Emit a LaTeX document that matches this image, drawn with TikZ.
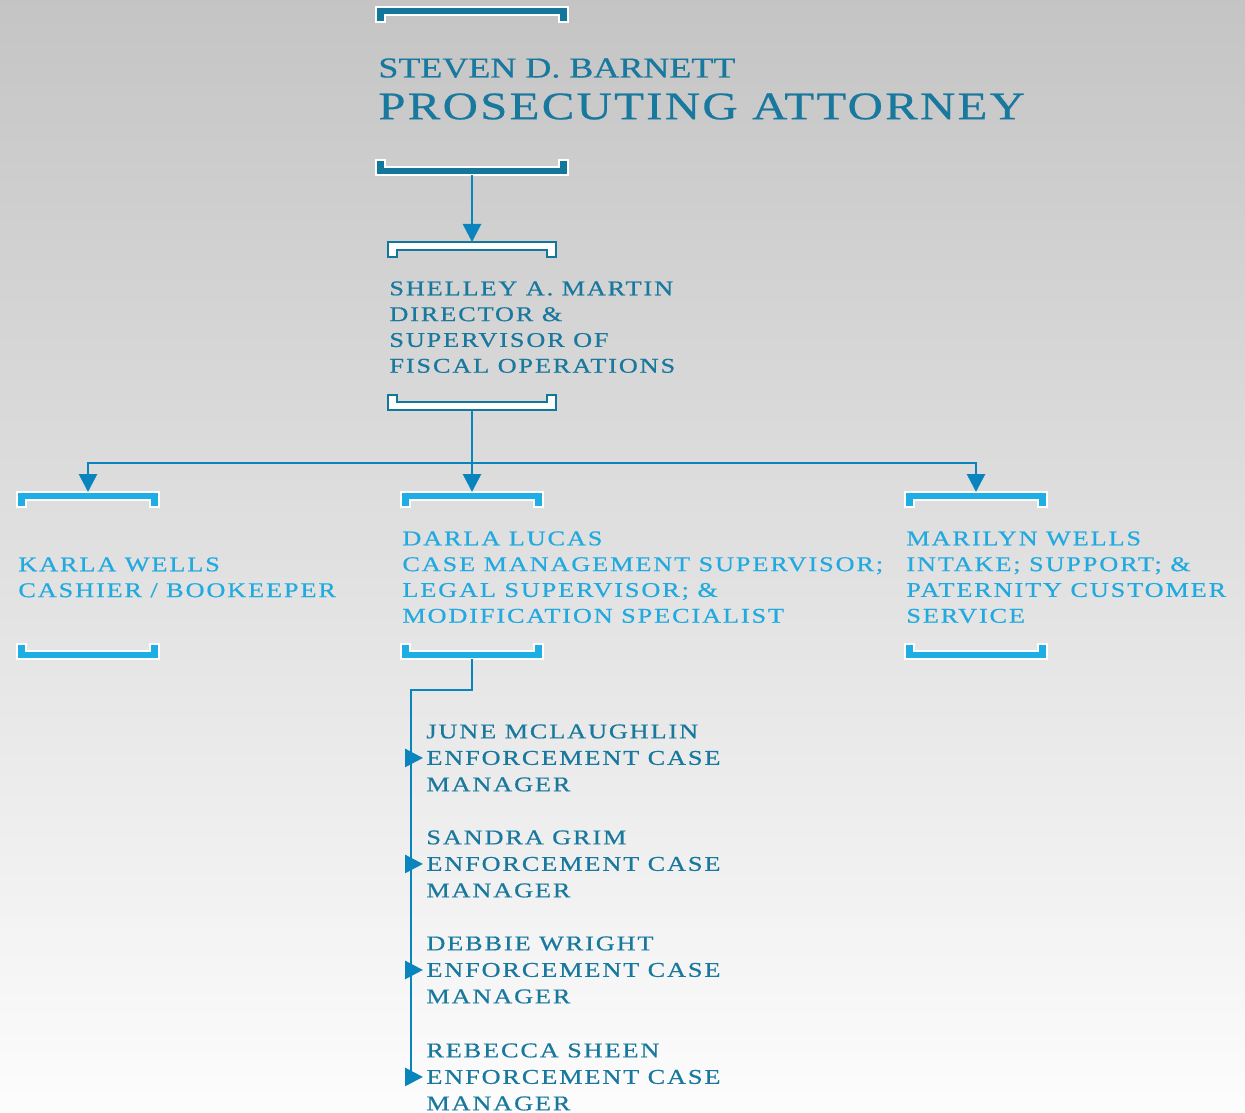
\documentclass[tikz,border=0pt]{standalone}
\usepackage{fontspec}
\setmainfont{Liberation Serif}
\newfontfamily\orgfont[FakeStretch=1.25,LetterSpace=9,FakeBold=0.6]{Liberation Serif}
\newfontfamily\headfont[FakeStretch=1.25,LetterSpace=0,FakeBold=0.6]{Liberation Serif}
\newfontfamily\rolefont[FakeStretch=1.25,LetterSpace=6,FakeBold=0.6]{Liberation Serif}
\definecolor{orgdark}{RGB}{19,118,155}
\definecolor{orgtext}{RGB}{24,120,158}
\definecolor{orglight}{RGB}{30,174,228}
\definecolor{orgsky}{RGB}{33,170,224}
\definecolor{orgline}{RGB}{10,132,188}
\usetikzlibrary{arrows.meta}

% pair of brackets round a person: name, style, left x, right x, top y, bottom y
\newcommand{\bracketpair}[6]{
  \filldraw [#2] (#3,#5) -- (#4,#5) -- (#4,#5+15) -- (#4-9,#5+15) -- (#4-9,#5+8) -- (#3+9,#5+8) -- (#3+9,#5+15) -- (#3,#5+15) -- cycle;
  \filldraw [#2] (#3,#6) -- (#4,#6) -- (#4,#6-15) -- (#4-9,#6-15) -- (#4-9,#6-8) -- (#3+9,#6-8) -- (#3+9,#6-15) -- (#3,#6-15) -- cycle;
  \coordinate (#1-top) at ({(#3+#4)/2},#5);
  \coordinate (#1-bot) at ({(#3+#4)/2},#6);
}

\begin{document}
\begin{tikzpicture}[x=0.5pt, y=-0.5pt,
  conn/.style={draw=orgline, line width=1.4pt, -{Triangle[width=9pt,length=9pt]}},
  darkbox/.style={fill=orgdark, draw=white, line width=0.8pt},
  whitebox/.style={fill=white, draw=orgdark, line width=1pt},
  lightbox/.style={fill=orglight, draw=white, line width=0.8pt},
  person/.style={anchor=north west, inner sep=0pt, align=left, text=orgtext,
    font=\orgfont\fontsize{10.5pt}{12.9pt}\selectfont},
  staff/.style={person, font=\orgfont\fontsize{10.5pt}{13.25pt}\selectfont}]

  \shade [top color=black!23, bottom color=black!1] (0,0) rectangle (1245,1112);
  \useasboundingbox (0,0) rectangle (1245,1112);

  % prosecuting attorney
  \bracketpair{boss}{darkbox}{376}{568}{7}{175}
  \node [person, font=\headfont\fontsize{14.4pt}{17pt}\selectfont] (boss) at (378,58) {STEVEN D. BARNETT};
  \node [person, font=\rolefont\fontsize{19.5pt}{22pt}\selectfont] (bossrole) at (378,93) {PROSECUTING ATTORNEY};

  % director
  \bracketpair{dir}{whitebox}{388}{556}{242}{410}
  \node [person] (director) at (389,281) {SHELLEY A. MARTIN\\DIRECTOR \&\\SUPERVISOR OF\\FISCAL OPERATIONS};

  % supervisors
  \bracketpair{karla}{lightbox}{17}{159}{492}{659}
  \bracketpair{darla}{lightbox}{401}{543}{492}{659}
  \bracketpair{marilyn}{lightbox}{905}{1047}{492}{659}
  \node [person, text=orgsky] (karla) at (18,557) {KARLA WELLS\\CASHIER / BOOKEEPER};
  \node [person, text=orgsky] (darla) at (402,531) {DARLA LUCAS\\CASE MANAGEMENT SUPERVISOR;\\LEGAL SUPERVISOR; \&\\MODIFICATION SPECIALIST};
  \node [person, text=orgsky] (marilyn) at (906,531) {MARILYN WELLS\\INTAKE; SUPPORT; \&\\PATERNITY CUSTOMER\\SERVICE};

  % case managers
  \node [staff] (june) at (426,724) {JUNE MCLAUGHLIN\\ENFORCEMENT CASE\\MANAGER};
  \node [staff] (sandra) at (426,830) {SANDRA GRIM\\ENFORCEMENT CASE\\MANAGER};
  \node [staff] (debbie) at (426,936) {DEBBIE WRIGHT\\ENFORCEMENT CASE\\MANAGER};
  \node [staff] (rebecca) at (426,1043) {REBECCA SHEEN\\ENFORCEMENT CASE\\MANAGER};

  % connectors
  \draw [conn] (boss-bot) -- (dir-top);
  \draw [conn] (dir-bot) -- (darla-top);
  \coordinate (split) at (472,463);
  \draw [conn] (split) -| (karla-top);
  \draw [conn] (split) -| (marilyn-top);

  \coordinate (trunk) at (411,690);
  \draw [conn, shorten >=1.5pt] (darla-bot) |- (trunk) -- (trunk |- rebecca.west) -- (rebecca.west);
  \foreach \s in {june, sandra, debbie} {
    \draw [conn, shorten >=1.5pt] (trunk |- \s.west) -- (\s.west);
  }

\end{tikzpicture}
\end{document}
